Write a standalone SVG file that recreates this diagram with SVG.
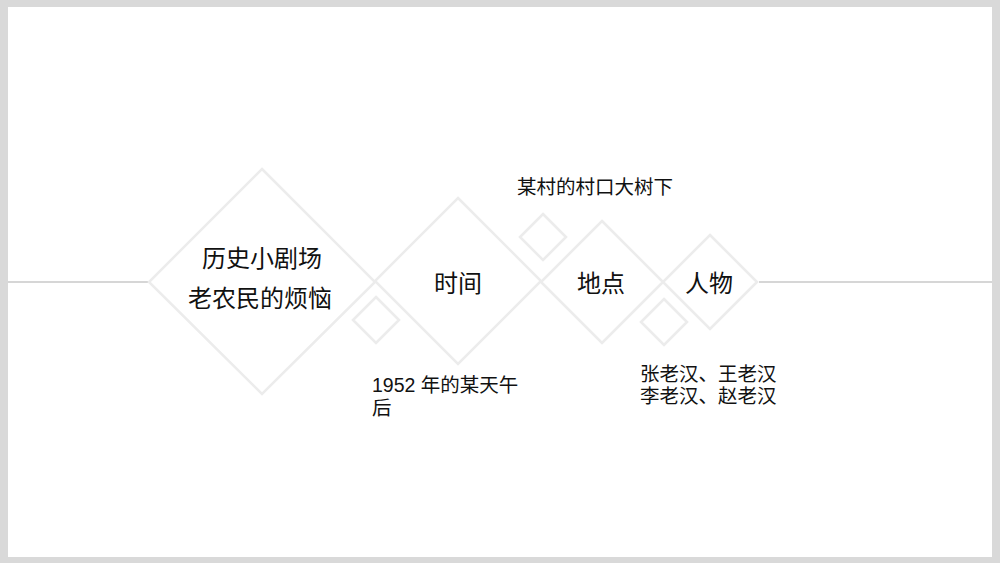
<svg xmlns="http://www.w3.org/2000/svg" width="1000" height="563" viewBox="0 0 1000 563">
<style>
.d{fill:none;stroke:#ececec;stroke-width:2.5}
.ln{stroke:#d6d6d6;stroke-width:2;fill:none}
text{font-family:"Liberation Sans","Noto Sans CJK SC",sans-serif;fill:#111}
.big{font-size:24px;text-anchor:middle}
.sm{font-size:19.5px}
</style>
<rect x="0" y="0" width="1000" height="563" fill="#d9d9d9"/>
<rect x="8" y="7" width="984" height="550" fill="#ffffff"/>
<g id="connectors">
<line class="ln" x1="8" y1="282" x2="149" y2="282"/>
<line class="ln" x1="759" y1="282" x2="992" y2="282"/>
</g>
<g id="node-title">
<polygon class="d" points="262,169 375,282 262,394 149,282"/>
<text class="big" x="262" y="267">历史小剧场</text>
<text class="big" x="260" y="307">老农民的烦恼</text>
</g>
<g id="deco-1">
<polygon class="d" points="376,297 399,320 376,343 353,320"/>
</g>
<g id="node-time">
<polygon class="d" points="458,198 541,281 458,364 375,281"/>
<text class="big" x="458" y="292">时间</text>
<text class="sm" x="372" y="392">1952 年的某天午</text>
<text class="sm" x="372" y="415">后</text>
</g>
<g id="deco-2">
<polygon class="d" points="543,214 566,237 543,260 520,237"/>
</g>
<g id="node-place">
<polygon class="d" points="602,221 663,282 602,343 541,282"/>
<text class="big" x="601" y="292">地点</text>
<text class="sm" x="517" y="194">某村的村口大树下</text>
</g>
<g id="deco-3">
<polygon class="d" points="664,299 687,322 664,345 641,322"/>
</g>
<g id="node-people">
<polygon class="d" points="710,235 757,282 710,329 663,282"/>
<text class="big" x="709" y="292">人物</text>
<text class="sm" x="640" y="381">张老汉、王老汉</text>
<text class="sm" x="640" y="403">李老汉、赵老汉</text>
</g>
</svg>
